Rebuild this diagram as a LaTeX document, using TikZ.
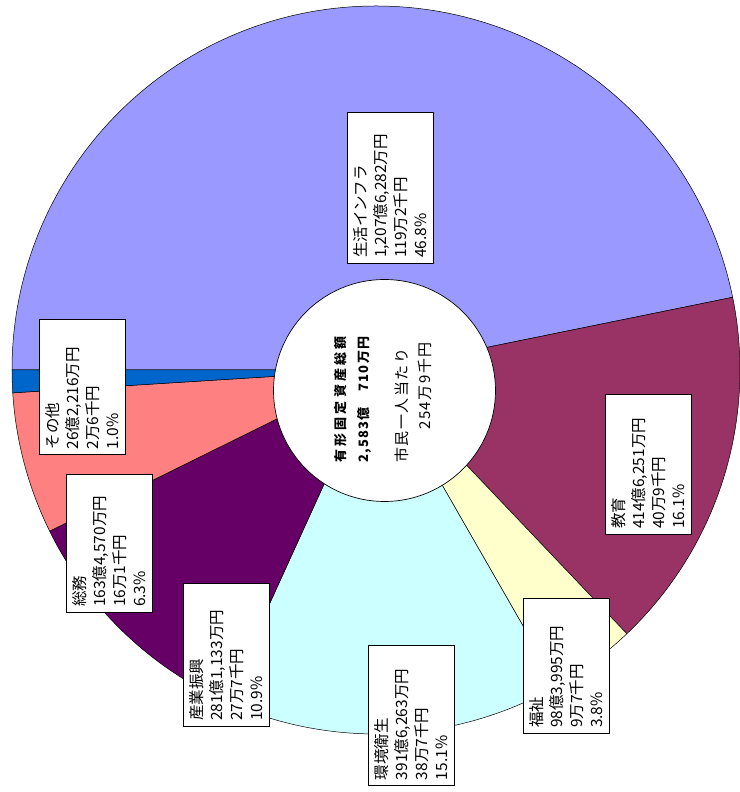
\documentclass[tikz,border=0pt]{standalone}
\usepackage{fontspec}
\setmainfont{Noto Sans CJK JP}
\usepackage{xcolor}
\usepackage{tikz}
\usetikzlibrary{positioning}
\definecolor{infra}{HTML}{9999FF}
\definecolor{kyoiku}{HTML}{993366}
\definecolor{fukushi}{HTML}{FFFFCC}
\definecolor{kankyo}{HTML}{CCFFFF}
\definecolor{sangyo}{HTML}{660066}
\definecolor{somu}{HTML}{FF8080}
\definecolor{sonota}{HTML}{0066CC}
\tikzset{
  slice/.style={draw=black, line width=0.5pt},
  databox/.style={rectangle, draw, fill=white, line width=0.7pt, rotate=90, align=left,
    inner xsep=5pt, inner ysep=6.5pt, font=\fontsize{15.5}{20}\selectfont},
}

\begin{document}
\begin{tikzpicture}[x=1pt, y=1pt]
    \useasboundingbox (0,0) rectangle (739,792);
    \coordinate (c) at (376,422);
    \foreach \a/\b/\col in {180/11.52/infra, 11.52/-46.44/kyoiku, -46.44/-60.12/fukushi,
      -60.12/-114.48/kankyo, -114.48/-153.72/sangyo, -153.72/-176.4/somu, -176.4/-180/sonota}
      \filldraw[slice, fill=\col] (c) -- ++(\a:364) arc[start angle=\a, end angle=\b, radius=364] -- cycle;
    \node[circle, draw, fill=white, line width=0.7pt, minimum size=222pt, inner sep=0pt] (hub) at (384.5,401.5) {};
    \node[rotate=90, anchor=west, align=left, inner sep=0pt, text width=135pt,
      font=\fontsize{15}{22.5}\selectfont] (total) at (383,329)
      {{\fontsize{13}{22.5}\selectfont\bfseries\addfontfeature{LetterSpace=25}有形固定資産総額}\\
       {\fontsize{13}{22.5}\selectfont\bfseries\addfontfeature{LetterSpace=10}2,583億　710万円}\\[17pt]
       {\addfontfeature{LetterSpace=10}市民一人当たり\\　　254万9千円}};
    \node[databox, text width=141pt] (infra) at (390,604.5) {生活インフラ\\1,207億6,282万円\\119万2千円\\46.8\%};
    \node[databox, text width=130pt] (kyoiku) at (648,328) {教育\\414億6,251万円\\40万9千円\\16.1\%};
    \node[databox, text width=125pt] (fukushi) at (566.5,126.5) {福祉\\98億3,995万円\\9万7千円\\3.8\%};
    \node[databox, text width=130pt] (kankyo) at (411,77) {環境衛生\\391億6,263万円\\38万7千円\\15.1\%};
    \node[databox, text width=133pt] (sangyo) at (226.5,137.5) {産業振興\\281億1,133万円\\27万7千円\\10.9\%};
    \node[databox, text width=128pt] (somu) at (109.5,249) {総務\\163億4,570万円\\16万1千円\\6.3\%};
    \node[databox, text width=125pt] (sonota) at (82,405) {その他\\26億2,216万円\\2万6千円\\1.0\%};
\end{tikzpicture}
\end{document}
